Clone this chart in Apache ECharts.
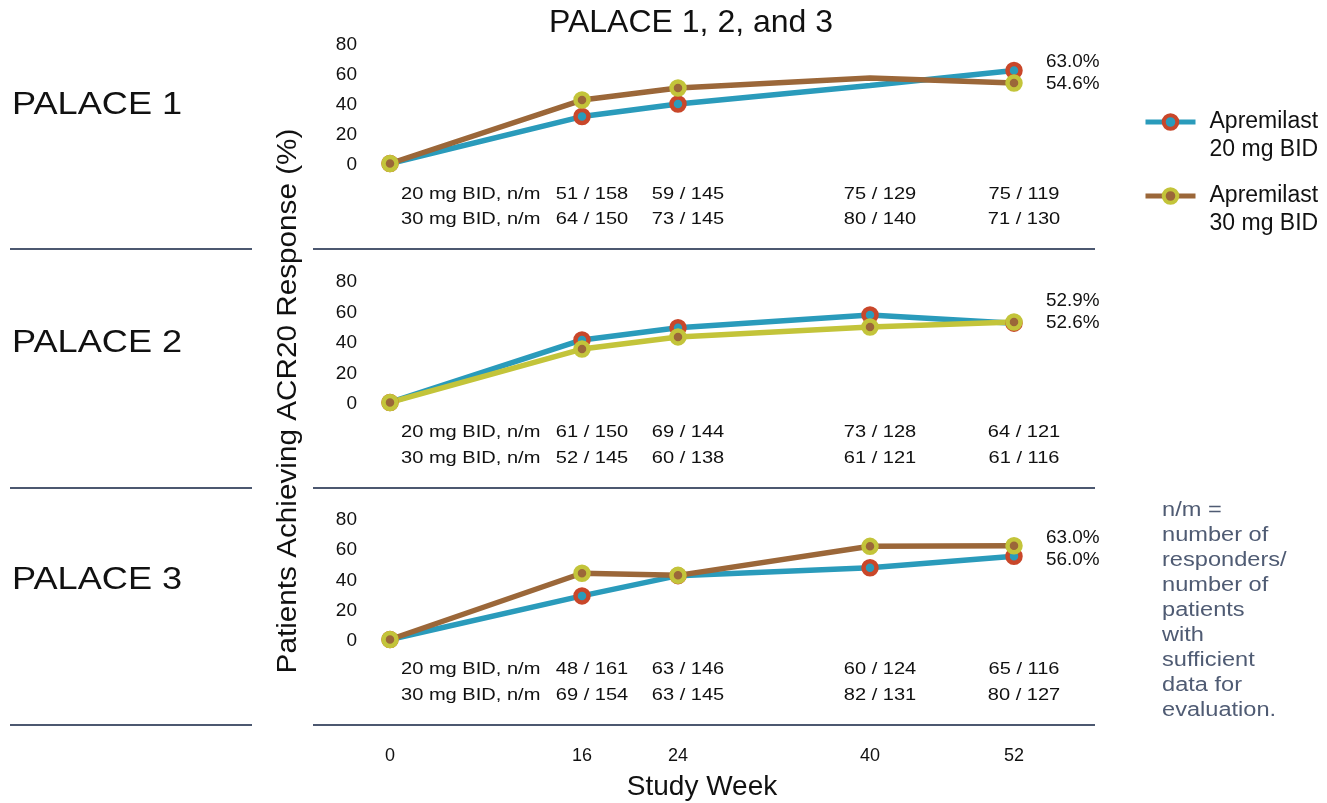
<!DOCTYPE html>
<html>
<head>
<meta charset="utf-8">
<script src="https://cdn.jsdelivr.net/npm/echarts@6/dist/echarts.min.js"></script>
<style>
  html, body { margin: 0; padding: 0; background: #fff; }
  #main { width: 1327px; height: 803px; }
</style>
</head>
<body>
<div id="main"></div>
<script>
// study weeks on the x axis
var weeks = [0, 16, 24, 40, 52];
var tableWeeks = [16, 24, 40, 52];

// % responders
var palace1_20 = [1, 32.3, 40.7, 53, 63.0];
var palace1_30 = [1, 43.3, 51.3, 58, 54.6];
var palace2_20 = [1, 42, 50, 58.4, 53];
var palace2_30 = [1, 36, 44, 50.5, 53.8];
var palace3_20 = [1, 29.8, 43.2, 48.4, 56.0];
var palace3_30 = [1, 44.8, 43.4, 62.6, 63.0];

// n/m rows
var nm1_20 = ['51 / 158', '59 / 145', '75 / 129', '75 / 119'];
var nm1_30 = ['64 / 150', '73 / 145', '80 / 140', '71 / 130'];
var nm2_20 = ['61 / 150', '69 / 144', '73 / 128', '64 / 121'];
var nm2_30 = ['52 / 145', '60 / 138', '61 / 121', '61 / 116'];
var nm3_20 = ['48 / 161', '63 / 146', '60 / 124', '65 / 116'];
var nm3_30 = ['69 / 154', '63 / 145', '82 / 131', '80 / 127'];

var endLabels = [['63.0%', '54.6%'], ['52.9%', '52.6%'], ['63.0%', '56.0%']];
var panelNames = ['PALACE 1', 'PALACE 2', 'PALACE 3'];

var NAME20 = 'Apremilast\n20 mg BID';
var NAME30 = 'Apremilast\n30 mg BID';
var FONT = '"Liberation Sans", Arial, sans-serif';

var BLUE = '#2a9bbb', RED = '#c9472a', BROWN = '#9b6739', OLIVE = '#c3c43a';
var SEP = '#4c5870';

var gridTops = [45, 282, 520];
var gridHeights = [120, 122, 121];
var tableRows = [[194, 219], [432, 458], [669, 695]];
var sepY = [249, 488, 725];

// markers hidden in the picture: [panel, point index]
var hiddenMarkers = [[0, 3]];

function points(panel, vals) {
  return vals.map(function (v, i) {
    var hide = hiddenMarkers.some(function (h) { return h[0] === panel && h[1] === i; });
    return hide ? { value: [weeks[i], v], symbolSize: 0 } : [weeks[i], v];
  });
}

function lineSeries(name, panel, vals, lineColor, fill, ring) {
  return {
    name: name, type: 'line', xAxisIndex: panel, yAxisIndex: panel,
    data: points(panel, vals),
    symbol: 'circle', symbolSize: 13, clip: false,
    lineStyle: { color: lineColor, width: 5.5 },
    itemStyle: { color: fill, borderColor: ring, borderWidth: 4.5 },
    emphasis: { disabled: true },
    z: 3
  };
}

var grids = [], xAxes = [], yAxes = [];
for (var i = 0; i < 3; i++) {
  grids.push({ left: 390, width: 624, top: gridTops[i], height: gridHeights[i] });
  xAxes.push({
    type: 'value', gridIndex: i, min: 0, max: 52,
    axisLine: { show: false }, axisTick: { show: false }, splitLine: { show: false },
    axisLabel: i === 2 ? {
      customValues: weeks, margin: 106, color: '#111', fontSize: 18, fontFamily: FONT
    } : { show: false },
    name: i === 2 ? 'Study Week' : '',
    nameLocation: 'middle', nameGap: 132,
    nameTextStyle: { color: '#111', fontSize: 28, fontFamily: FONT }
  });
  yAxes.push({
    type: 'value', gridIndex: i, min: 0, max: 80, interval: 20,
    axisLine: { show: false }, axisTick: { show: false }, splitLine: { show: false },
    axisLabel: { margin: 33, color: '#111', fontSize: 19, fontFamily: FONT }
  });
}

var series = [
  lineSeries(NAME20, 0, palace1_20, BLUE, BLUE, RED),
  lineSeries(NAME30, 0, palace1_30, BROWN, BROWN, OLIVE),
  lineSeries(NAME20, 1, palace2_20, BLUE, BLUE, RED),
  lineSeries(NAME30, 1, palace2_30, OLIVE, BROWN, OLIVE),
  lineSeries(NAME20, 2, palace3_20, BLUE, BLUE, RED),
  lineSeries(NAME30, 2, palace3_30, BROWN, BROWN, OLIVE)
];

var option = {
  backgroundColor: '#fff',
  animation: false,
  textStyle: { fontFamily: FONT },
  title: {
    text: 'PALACE 1, 2, and 3', left: 544, top: 2,
    textStyle: { color: '#111', fontSize: 32, fontWeight: 'normal', fontFamily: FONT }
  },
  legend: {
    data: [NAME20, NAME30], orient: 'vertical', left: 1138, top: 75,
    itemWidth: 50, itemHeight: 17, itemGap: -10,
    lineStyle: { width: 5 },
    itemStyle: { borderWidth: 4 },
    formatter: function (name) {
      return ' \n' + name.split('\n').map(function (s) { return '{t|' + s + '}'; }).join('\n');
    },
    textStyle: {
      color: '#111', fontSize: 23, lineHeight: 28, fontFamily: FONT,
      rich: { t: { fontSize: 23, lineHeight: 28, fontFamily: FONT, color: '#111', padding: [0, 0, 0, 9] } }
    }
  },
  grid: grids, xAxis: xAxes, yAxis: yAxes, series: series
};

var chart = echarts.init(document.getElementById('main'));
chart.setOption(option);

// text annotations around the plots
var graphic = [];
var tables = [[nm1_20, nm1_30], [nm2_20, nm2_30], [nm3_20, nm3_30]];
var rowNames = ['20 mg BID, n/m', '30 mg BID, n/m'];
var STRETCH = 1.18;
for (var p = 0; p < 3; p++) {
  for (var r = 0; r < 2; r++) {
    var y = tableRows[p][r];
    graphic.push({ type: 'text', x: 401, y: y, scaleX: STRETCH,
      style: { text: rowNames[r], fill: '#111', font: '17px ' + FONT, textVerticalAlign: 'middle' } });
    tableWeeks.forEach(function (w, k) {
      var px = chart.convertToPixel({ xAxisIndex: p }, w);
      graphic.push({ type: 'text', x: px + 10, y: y, scaleX: STRETCH,
        style: { text: tables[p][r][k], font: '17px ' + FONT, fill: '#111', textAlign: 'center', textVerticalAlign: 'middle' } });
    });
  }
  var zeroY = chart.convertToPixel({ yAxisIndex: p }, 0);
  graphic.push({ type: 'text', x: 1046, y: zeroY - 103, scaleX: 1.05,
    style: { text: endLabels[p][0], font: '18px ' + FONT, fill: '#111', textVerticalAlign: 'middle' } });
  graphic.push({ type: 'text', x: 1046, y: zeroY - 81, scaleX: 1.05,
    style: { text: endLabels[p][1], font: '18px ' + FONT, fill: '#111', textVerticalAlign: 'middle' } });
  graphic.push({ type: 'text', x: 12, y: [105, 343, 580][p], scaleX: 1.13,
    style: { text: panelNames[p], font: '32px ' + FONT, fill: '#111', textVerticalAlign: 'middle' } });
  graphic.push({ type: 'line', shape: { x1: 10, y1: sepY[p], x2: 252, y2: sepY[p] },
    style: { stroke: SEP, lineWidth: 2 } });
  graphic.push({ type: 'line', shape: { x1: 313, y1: sepY[p], x2: 1095, y2: sepY[p] },
    style: { stroke: SEP, lineWidth: 2 } });
}
graphic.push({ type: 'text', x: 289, y: 401, rotation: Math.PI / 2, scaleX: 1.1,
  style: { text: 'Patients Achieving ACR20 Response (%)', font: '27px ' + FONT, fill: '#111',
    textAlign: 'center', textVerticalAlign: 'middle' } });
graphic.push({ type: 'text', x: 1162, y: 498, scaleX: 1.18,
  style: { text: 'n/m =\nnumber of\nresponders/\nnumber of\npatients\nwith\nsufficient\ndata for\nevaluation.',
    font: '20px ' + FONT, fill: '#4f5b73', lineHeight: 25 } });

chart.setOption({ graphic: graphic });
</script>
</body>
</html>
